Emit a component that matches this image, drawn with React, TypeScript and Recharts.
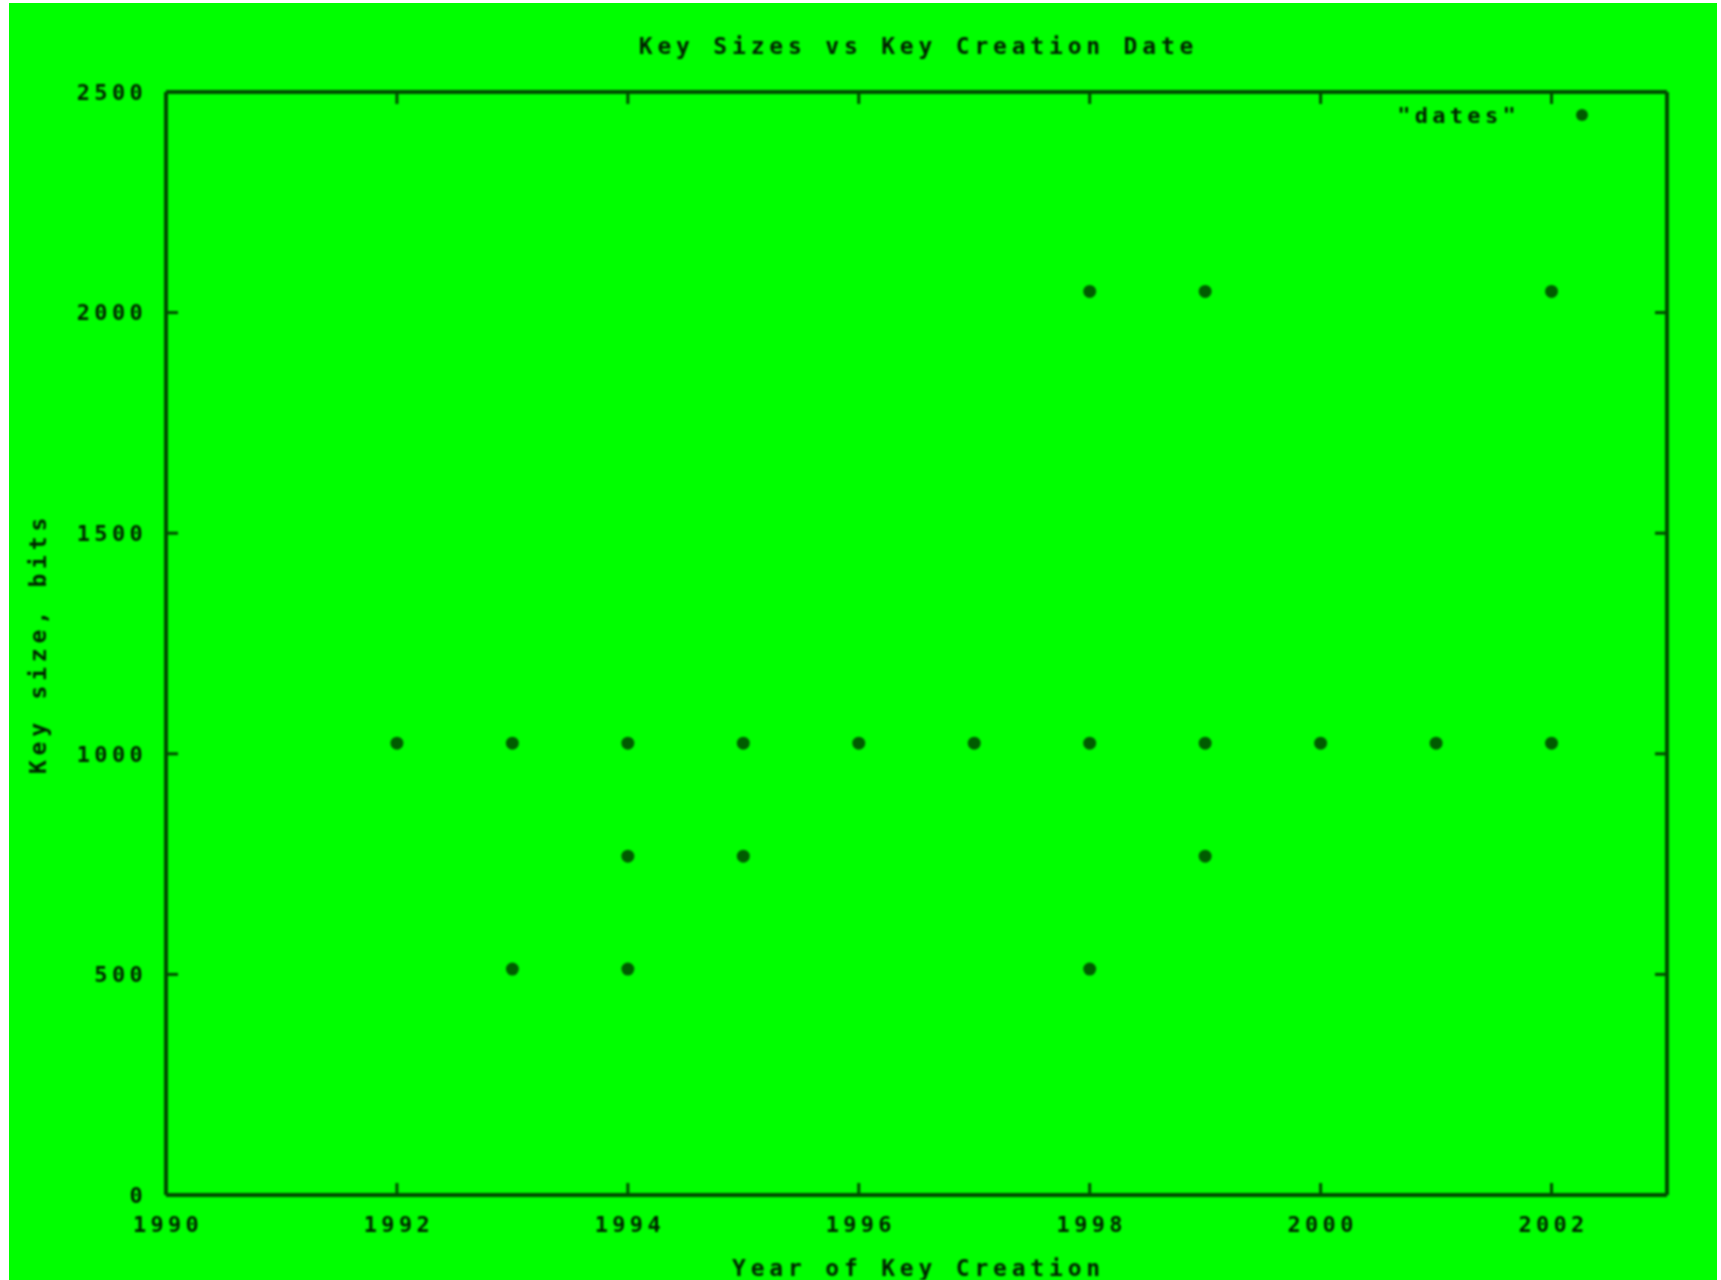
import { ScatterChart, Scatter, XAxis, YAxis, Legend, Label, ReferenceLine } from 'recharts';

// one entry per point: creation year + key size in bits
const keyYears = [1992, 1993, 1993, 1994, 1994, 1994, 1995, 1995, 1996, 1997, 1998, 1998, 1998, 1999, 1999, 1999, 2000, 2001, 2002, 2002];
const keySizes = [1024, 1024, 512, 1024, 768, 512, 1024, 768, 1024, 1024, 2048, 1024, 512, 2048, 1024, 768, 1024, 1024, 2048, 1024];
const yearTicks = [1990, 1992, 1994, 1996, 1998, 2000, 2002];
const sizeTicks = [0, 500, 1000, 1500, 2000, 2500];
const yearMax = 2003;
const sizeMax = 2500;

const BG = '#00ff00';
const AXIS = '#004a00';
const TEXT = '#002000';
const DOT = '#005c00';
const FONT = '"DejaVu Sans Mono", monospace';
const TICK = 12;

const textStyle = { fontFamily: FONT, fontSize: 22, fontWeight: 700, letterSpacing: 4.3, fill: TEXT };
const titleStyle = { ...textStyle, fontSize: 23, letterSpacing: 4.8 };

const BottomTick = ({ x, y, payload }: any) => (
  <text x={x + 2} y={y + 29} dy="0.35em" textAnchor="middle" style={textStyle}>
    {payload.value}
  </text>
);

const LeftTick = ({ x, y, payload }: any) => (
  <text x={x - 19} y={y} dy="0.35em" textAnchor="end" style={textStyle}>
    {payload.value}
  </text>
);

// gnuplot style: short inward ticks on both ends of the grid line
const XTickPair = ({ x1, y1, y2 }: any) => {
  const top = Math.min(y1, y2);
  const bottom = Math.max(y1, y2);
  return (
    <g>
      <line x1={x1} y1={bottom} x2={x1} y2={bottom - TICK} stroke={AXIS} strokeWidth={3} />
      <line x1={x1} y1={top} x2={x1} y2={top + TICK} stroke={AXIS} strokeWidth={3} />
    </g>
  );
};

const YTickPair = ({ x1, x2, y1 }: any) => {
  const left = Math.min(x1, x2);
  const right = Math.max(x1, x2);
  return (
    <g>
      <line x1={left} y1={y1} x2={left + TICK} y2={y1} stroke={AXIS} strokeWidth={3} />
      <line x1={right} y1={y1} x2={right - TICK} y2={y1} stroke={AXIS} strokeWidth={3} />
    </g>
  );
};

const LegendBox = ({ payload }: any) => (
  <svg width={300} height={30}>
    <text x={220} y={15} dy="0.35em" textAnchor="end" style={textStyle}>
      {payload && payload[0] ? payload[0].value : ''}
    </text>
    <circle cx={282} cy={15} r={6} fill={DOT} />
  </svg>
);

const Dot = ({ cx, cy }: any) => <circle cx={cx} cy={cy} r={6.5} fill={DOT} />;

export default function App() {
  const data = keyYears.map((year, i) => ({ year, bits: keySizes[i] }));

  return (
    <div style={{ position: 'absolute', left: 0, top: 0, width: 1721, height: 1280, background: '#fff', overflow: 'hidden' }}>
      <div style={{ position: 'absolute', left: 9, top: 3, width: 1708, height: 1277, background: BG }}>
        <ScatterChart
          width={1708}
          height={1277}
          margin={{ top: 89, right: 50, left: 0, bottom: 0 }}
          style={{ filter: 'blur(1.3px)' }}
        >
          <XAxis
            dataKey="year"
            type="number"
            domain={[1990, yearMax]}
            allowDataOverflow
            ticks={yearTicks}
            height={85}
            tickSize={0}
            tickMargin={0}
            tickLine={false}
            tick={<BottomTick />}
            axisLine={{ stroke: AXIS, strokeWidth: 4 }}
          >
            <Label
              content={(p: any) => (
                <text
                  x={p.viewBox.x + p.viewBox.width / 2 + 2}
                  y={p.viewBox.y + 73}
                  dy="0.35em"
                  textAnchor="middle"
                  style={titleStyle}
                >
                  Year of Key Creation
                </text>
              )}
            />
          </XAxis>
          <YAxis
            dataKey="bits"
            type="number"
            domain={[0, sizeMax]}
            allowDataOverflow
            ticks={sizeTicks}
            width={157}
            tickSize={0}
            tickMargin={0}
            tickLine={false}
            tick={<LeftTick />}
            axisLine={{ stroke: AXIS, strokeWidth: 4 }}
          >
            <Label
              content={(p: any) => {
                const cx = p.viewBox.x + 29;
                const cy = p.viewBox.y + p.viewBox.height / 2;
                return (
                  <text
                    x={cx}
                    y={cy}
                    dy="0.35em"
                    textAnchor="middle"
                    transform={`rotate(-90 ${cx} ${cy})`}
                    style={titleStyle}
                  >
                    Key size, bits
                  </text>
                );
              }}
            />
          </YAxis>

          {/* frame: top and right borders */}
          <ReferenceLine
            y={sizeMax}
            stroke={AXIS}
            strokeWidth={4}
            label={(p: any) => (
              <text
                x={p.viewBox.x + p.viewBox.width / 2 + 2}
                y={p.viewBox.y - 46}
                dy="0.35em"
                textAnchor="middle"
                style={titleStyle}
              >
                Key Sizes vs Key Creation Date
              </text>
            )}
          />
          <ReferenceLine x={yearMax} stroke={AXIS} strokeWidth={4} />

          {yearTicks.slice(1).map((t) => (
            <ReferenceLine key={`xt-${t}`} x={t} shape={<XTickPair />} />
          ))}
          {sizeTicks.slice(1, -1).map((t) => (
            <ReferenceLine key={`yt-${t}`} y={t} shape={<YTickPair />} />
          ))}

          <Legend
            layout="horizontal"
            verticalAlign="middle"
            align="center"
            content={<LegendBox />}
            wrapperStyle={{ top: 97, left: 1291, width: 300, height: 30 }}
          />
          <Scatter
            name={'"dates"'}
            data={data}
            fill={DOT}
            shape={<Dot />}
            isAnimationActive={false}
          />
        </ScatterChart>
      </div>
    </div>
  );
}
